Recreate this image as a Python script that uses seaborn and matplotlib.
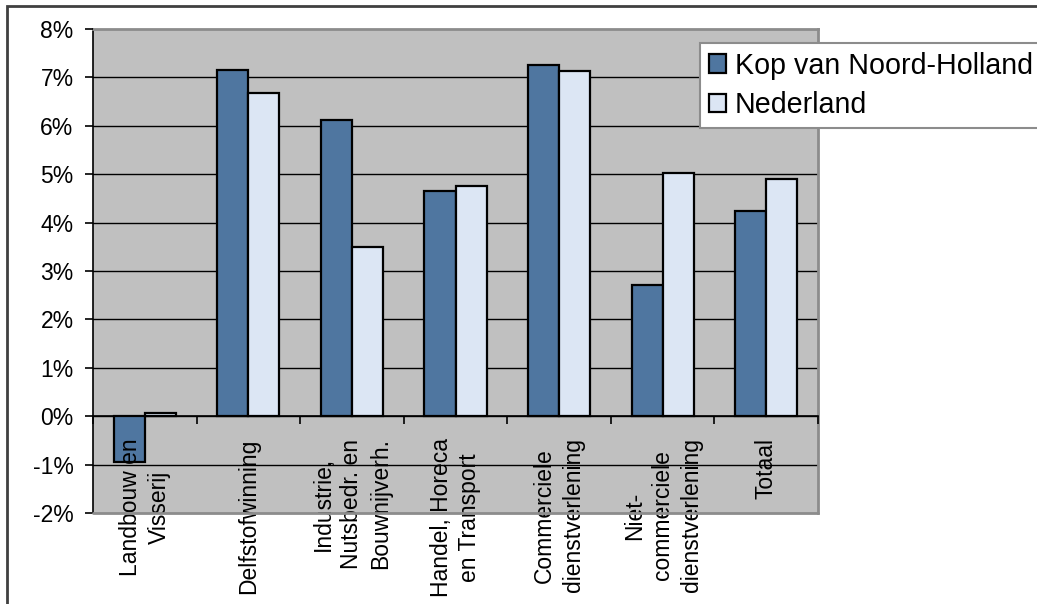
import numpy as np
import pandas as pd
import seaborn as sns
import matplotlib.pyplot as plt
from matplotlib.patches import Rectangle
from matplotlib.ticker import FuncFormatter

# groei per sector (in procenten)
sectoren = ['Landbouw en\nVisserij', 'Delfstofwinning',
            'Industrie,\nNutsbedr. en\nBouwnijverh.',
            'Handel, Horeca\nen Transport', 'Commerciele\ndienstverlening',
            'Niet-\ncommerciele\ndienstverlening', 'Totaal']
regios = ['Kop van Noord-Holland', 'Nederland']
kop = [-0.95, 7.16, 6.12, 4.65, 7.26, 2.72, 4.24]
ned = [0.07, 6.67, 3.50, 4.76, 7.13, 5.02, 4.91]
kleuren = ['#4F76A0', '#DCE6F4']

df = pd.DataFrame({
    'sector': sectoren * 2,
    'regio': [regios[0]] * len(kop) + [regios[1]] * len(ned),
    'waarde': kop + ned,
})

sns.set_style('white')
plt.rcParams['font.family'] = ['Liberation Sans', 'DejaVu Sans']
plt.rcParams['text.color'] = 'black'

fig = plt.figure(figsize=(10.37, 6.04), dpi=100)
ax = fig.add_axes([93 / 1037, 1 - 513 / 604, (818 - 93) / 1037, (513 - 29) / 604])

sns.barplot(data=df, x='sector', y='waarde', hue='regio', palette=kleuren,
            width=0.6, edgecolor='black', linewidth=1.6, saturation=1, ax=ax)

ax.set_facecolor('#C0C0C0')
ax.set_ylim(-2, 8)
ax.set_xlim(-0.5, 6.5)
ax.set_yticks(np.arange(-2, 9, 1))
ax.yaxis.set_major_formatter(FuncFormatter(lambda v, p: f'{int(round(v))}%'))
ax.grid(False)
# gridlines under the bars, axis labels above them
for v in np.arange(-1, 8, 1):
    ax.axhline(v, color='black', lw=1, zorder=0.5)
ax.set_axisbelow(False)
ax.set_xlabel('')
ax.set_ylabel('')

# category axis crosses at 0
ax.spines['bottom'].set_position(('data', 0))
ax.spines['bottom'].set_color('black')
ax.spines['bottom'].set_linewidth(1.2)
ax.spines['left'].set_color('black')
ax.spines['left'].set_linewidth(1.2)
for s in ['top', 'right']:
    ax.spines[s].set_color('#8C8C8C')
    ax.spines[s].set_linewidth(2)
ax.axhline(-2, color='#8C8C8C', lw=2, clip_on=False, zorder=3)

ax.set_xticks(range(len(sectoren)))
ax.set_xticklabels(sectoren, rotation=90, va='top', ha='center',
                   multialignment='center', fontsize=16.5, linespacing=1.3)
ax.set_xticks(np.arange(-0.5, len(sectoren), 1), minor=True)
ax.tick_params(axis='x', which='major', length=0, pad=16, labelcolor='black')
ax.tick_params(axis='x', which='minor', length=6, width=1.2, color='black',
               direction='out', bottom=True)
ax.tick_params(axis='y', length=6, width=1.2, color='black', direction='out',
               left=True, pad=8, labelsize=16.5, labelcolor='black')

handles, labels = ax.get_legend_handles_labels()
ax.get_legend().remove()
leg = fig.legend(handles, labels, loc='upper left',
                 bbox_to_anchor=(700 / 1037, 1 - 43 / 604), borderaxespad=0,
                 fontsize=20.6, frameon=True, fancybox=False, framealpha=1,
                 facecolor='white', edgecolor='#8C8C8C', handlelength=0.62,
                 handleheight=0.62, handletextpad=0.3, labelspacing=0.4,
                 borderpad=0.3)
leg.get_frame().set_linewidth(1.5)

# outer chart frame
fig.patches.append(Rectangle((7 / 1037, -0.1), 1.2, 1.1 - 6 / 604,
                             transform=fig.transFigure, fill=False,
                             ec='#404040', lw=2))

fig.savefig('out.png', dpi=100)
